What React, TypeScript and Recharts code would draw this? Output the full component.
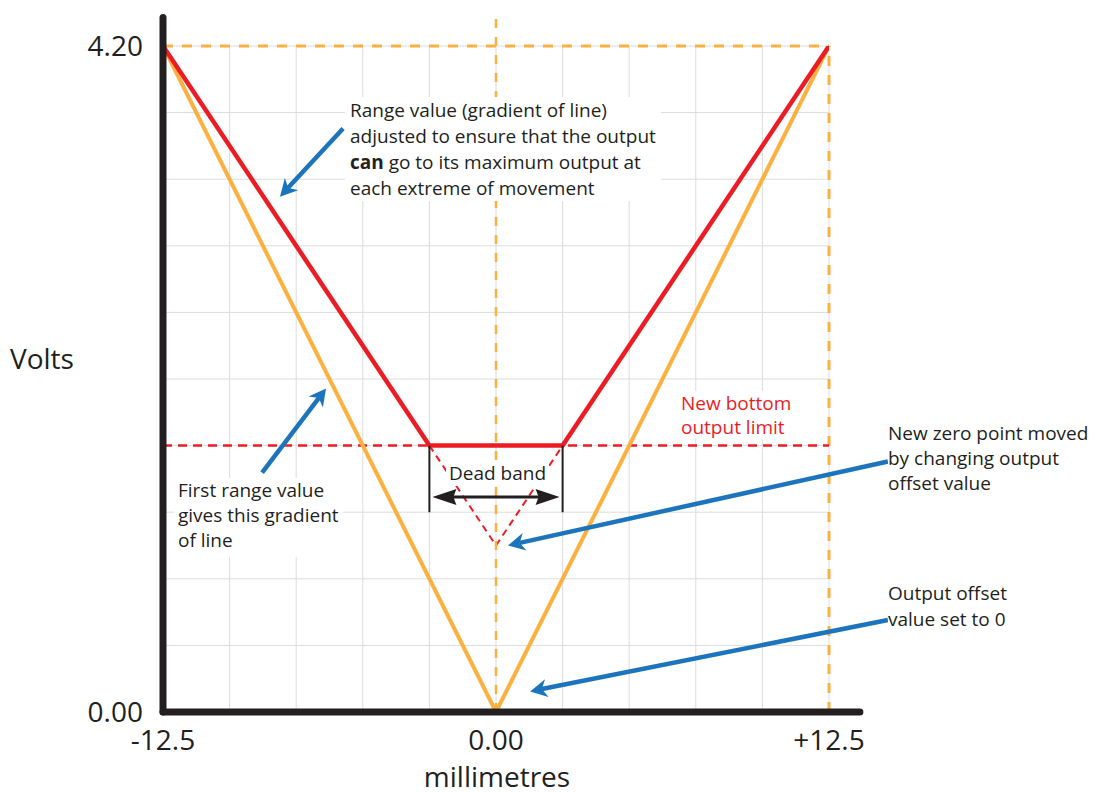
import React from "react";
import {
  ComposedChart,
  Line,
  XAxis,
  YAxis,
  CartesianGrid,
  ReferenceLine,
} from "recharts";

// values (x in mm, y in volts)
const xTicks = [-12.5, -10, -7.5, -5, -2.5, 0, 2.5, 5, 7.5, 10, 12.5];
const yTicks = [0, 0.42, 0.84, 1.26, 1.68, 2.1, 2.52, 2.94, 3.36, 3.78, 4.2];
const xLabels: Record<string, string> = { "-12.5": "-12.5", "0": "0.00", "12.5": "+12.5" };
const yLabels: Record<string, string> = { "0": "0.00", "4.2": "4.20" };

const firstRange = [
  { x: -12.5, y: 4.2 },
  { x: 0, y: 0 },
  { x: 12.5, y: 4.2 },
];
const adjustedRange = [
  { x: -12.5, y: 4.2 },
  { x: -2.5, y: 1.68 },
  { x: 2.5, y: 1.68 },
  { x: 12.5, y: 4.2 },
];
const hiddenV = [
  { x: -2.5, y: 1.68 },
  { x: 0, y: 1.05 },
  { x: 2.5, y: 1.68 },
];

const bottomLimit = 1.68;
const deadBand = { from: -2.5, to: 2.5, y: 1.356, low: 1.26 };
const axisTop = 4.38;
const axisRight = 13.66;

const blueArrows = [
  { from: { x: -5.74, y: 3.68 }, to: { x: -8.11, y: 3.25 } },
  { from: { x: -8.78, y: 1.51 }, to: { x: -6.38, y: 2.04 } },
  { from: { x: 14.71, y: 1.58 }, to: { x: 0.45, y: 1.05 } },
  { from: { x: 14.71, y: 0.58 }, to: { x: 1.28, y: 0.13 } },
];

const INK = "#231f20";
const RED = "#ed1c24";
const ORANGE = "#fbb040";
const BLUE = "#1c75bc";
const FONT = "'Open Sans', sans-serif";

function head(x: number, y: number, ux: number, uy: number, len: number, half: number, notch: number) {
  const nx = -uy;
  const ny = ux;
  const bx = x - ux * len;
  const by = y - uy * len;
  const pts = [
    [x, y],
    [bx + nx * half, by + ny * half],
    [x - ux * (len - notch), y - uy * (len - notch)],
    [bx - nx * half, by - ny * half],
  ];
  return pts.map((p) => p.join(",")).join(" ");
}

const arrowShape = (props: any) => {
  const { x1, y1, x2, y2 } = props;
  const dx = x2 - x1;
  const dy = y2 - y1;
  const d = Math.hypot(dx, dy) || 1;
  const ux = dx / d;
  const uy = dy / d;
  const len = 17;
  return (
    <g>
      <line
        x1={x1}
        y1={y1}
        x2={x2 - ux * (len - 5)}
        y2={y2 - uy * (len - 5)}
        stroke={BLUE}
        strokeWidth={4.5}
      />
      <polygon points={head(x2, y2, ux, uy, len, 9, 5)} fill={BLUE} />
    </g>
  );
};

const doubleArrowShape = (props: any) => {
  const { x1, y1, x2, y2 } = props;
  const dx = x2 - x1;
  const dy = y2 - y1;
  const d = Math.hypot(dx, dy) || 1;
  const ux = dx / d;
  const uy = dy / d;
  const tx1 = x1 + ux * 3;
  const tx2 = x2 - ux * 3;
  return (
    <g>
      <line x1={tx1 + ux * 14} y1={y1} x2={tx2 - ux * 14} y2={y2} stroke={INK} strokeWidth={3} />
      <polygon points={head(tx1, y1, -ux, -uy, 24, 8, 3)} fill={INK} />
      <polygon points={head(tx2, y2, ux, uy, 24, 8, 3)} fill={INK} />
    </g>
  );
};

const axisShape = (props: any) => {
  const { x1, y1, x2, y2 } = props;
  return (
    <line x1={x1} y1={y1} x2={x2} y2={y2} stroke={INK} strokeWidth={7} strokeLinecap="round" />
  );
};

const textBox: React.CSSProperties = {
  position: "absolute",
  fontFamily: FONT,
  fontSize: 19,
  color: INK,
  background: "#fff",
  whiteSpace: "nowrap",
};

export default function App() {
  return (
    <div style={{ position: "absolute", left: 0, top: 0, width: 1093, height: 794, background: "#fff", overflow: "hidden" }}>
      <ComposedChart
        width={1093}
        height={794}
        margin={{ top: 46, right: 264, bottom: 12, left: 63 }}
      >
        <CartesianGrid stroke="#dcdcdc" strokeWidth={1} />
        <XAxis
          type="number"
          dataKey="x"
          domain={[-12.5, 12.5]}
          ticks={xTicks}
          allowDataOverflow
          axisLine={false}
          tickLine={false}
          tickSize={0}
          tickMargin={18}
          height={70}
          interval={0}
          tickFormatter={(v: number) => xLabels[String(v)] ?? ""}
          tick={{ fill: INK, fontSize: 28, fontFamily: FONT }}
        />
        <YAxis
          type="number"
          domain={[0, 4.2]}
          ticks={yTicks}
          allowDataOverflow
          axisLine={false}
          tickLine={false}
          tickSize={0}
          tickMargin={20}
          width={100}
          interval={0}
          tickFormatter={(v: number) => yLabels[String(v)] ?? ""}
          tick={{ fill: INK, fontSize: 28, fontFamily: FONT }}
        />
        <ReferenceLine y={4.2} stroke={ORANGE} strokeWidth={3} strokeDasharray="10 9" />
        <ReferenceLine x={12.5} stroke={ORANGE} strokeWidth={3} strokeDasharray="10 9" />
        <ReferenceLine y={bottomLimit} stroke={RED} strokeWidth={2.5} strokeDasharray="9 6" />
        <Line
          data={firstRange}
          dataKey="y"
          stroke={ORANGE}
          strokeWidth={4}
          dot={false}
          isAnimationActive={false}
        />
        <Line
          data={hiddenV}
          dataKey="y"
          stroke={RED}
          strokeWidth={2}
          strokeDasharray="7 5"
          dot={false}
          isAnimationActive={false}
        />
        <Line
          data={adjustedRange}
          dataKey="y"
          stroke={RED}
          strokeWidth={4.5}
          dot={false}
          isAnimationActive={false}
        />
        <ReferenceLine
          segment={[{ x: 0, y: 0 }, { x: 0, y: axisTop }]}
          ifOverflow="visible"
          stroke={ORANGE}
          strokeWidth={2.5}
          strokeDasharray="9 9"
        />
        <ReferenceLine
          segment={[{ x: deadBand.from, y: bottomLimit }, { x: deadBand.from, y: deadBand.low }]}
          stroke={INK}
          strokeWidth={2}
        />
        <ReferenceLine
          segment={[{ x: deadBand.to, y: bottomLimit }, { x: deadBand.to, y: deadBand.low }]}
          stroke={INK}
          strokeWidth={2}
        />
        <ReferenceLine
          segment={[{ x: deadBand.from, y: deadBand.y }, { x: deadBand.to, y: deadBand.y }]}
          shape={doubleArrowShape}
        />
        <ReferenceLine
          segment={[{ x: -12.5, y: 0 }, { x: -12.5, y: axisTop }]}
          ifOverflow="visible"
          shape={axisShape}
        />
        <ReferenceLine
          segment={[{ x: -12.5, y: 0 }, { x: axisRight, y: 0 }]}
          ifOverflow="visible"
          shape={axisShape}
        />
        {blueArrows.map((a, i) => (
          <ReferenceLine
            key={i}
            segment={[a.from, a.to]}
            ifOverflow="visible"
            shape={arrowShape}
          />
        ))}
      </ComposedChart>

      <div style={{ position: "absolute", left: 10, top: 338, fontFamily: FONT, fontSize: 28, color: INK, lineHeight: "40px" }}>
        Volts
      </div>
      <div style={{ position: "absolute", left: 0, width: 994, top: 761, textAlign: "center", fontFamily: FONT, fontSize: 28, color: INK, lineHeight: "30px" }}>
        millimetres
      </div>

      <div style={{ ...textBox, left: 345, top: 97, lineHeight: "26px", padding: "0 5px" }}>
        Range value (gradient of line)
        <br />
        adjusted to ensure that the output
        <br />
        <b>can</b> go to its maximum output at
        <br />
        each extreme of movement
      </div>
      <div style={{ ...textBox, left: 174, top: 478, lineHeight: "25px", padding: "0 4px 4px 4px" }}>
        First range value
        <br />
        gives this gradient
        <br />
        of line
      </div>
      <div style={{ ...textBox, left: 677, top: 391, lineHeight: "24px", color: RED, padding: "0 4px" }}>
        New bottom
        <br />
        output limit
      </div>
      <div style={{ ...textBox, left: 446, top: 460, lineHeight: "26px", padding: "0 3px" }}>
        Dead band
      </div>
      <div style={{ ...textBox, left: 888, top: 421, lineHeight: "25px" }}>
        New zero point moved
        <br />
        by changing output
        <br />
        offset value
      </div>
      <div style={{ ...textBox, left: 888, top: 580, lineHeight: "26px" }}>
        Output offset
        <br />
        value set to 0
      </div>
    </div>
  );
}
